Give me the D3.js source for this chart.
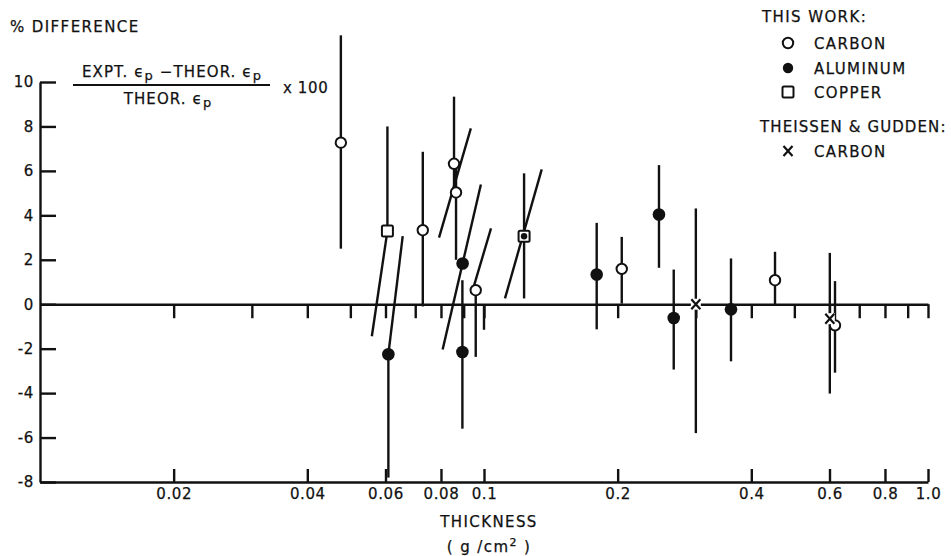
<!DOCTYPE html>
<html>
<head>
<meta charset="utf-8">
<script src="https://d3js.org/d3.v7.min.js"></script>
<style>
body { margin: 0; background: #fff; }
svg text { font-family: "DejaVu Sans", sans-serif; fill: #111; stroke: #111; stroke-width: 0.25px; }
</style>
</head>
<body>
<div id="chart"></div>
<script>
// [thickness, % difference, low end of bar, high end of bar]
var carbon = [
    [0.0476, 7.27, 2.5, 12.1],
    [0.0728, 3.33, -0.1, 6.86],
    [0.0856, 6.32, 5.03, 9.34],
    [0.0865, 5.03, 2.0, 6.32],
    [0.0958, 0.63, -2.37, 0.63],
    [0.2043, 1.59, 0.03, 3.03],
    [0.4523, 1.08, -0.05, 2.36],
    [0.6174, -0.95, -3.08, 1.04]
]
var aluminum = [
    [0.0609, -2.25, -7.8, -2.25],
    [0.0895, 1.83, 1.83, 1.83],
    [0.0894, -2.15, -5.6, 1.08],
    [0.1794, 1.34, -1.13, 3.66],
    [0.2478, 4.04, 1.64, 6.26],
    [0.2675, -0.62, -2.94, 1.56],
    [0.360, -0.23, -2.57, 2.06]
]
var copper = [
    [0.0606, 3.30, 3.30, 8.0],
    [0.1231, 3.06, 0.26, 5.89]
]
var copperInner = [[0.1231, 3.06]]
var theissen = [
    [0.300, 0.0, -5.8, 4.31],
    [0.601, -0.65, -4.02, 2.31]
]
// slanted bars [x1, y1, x2, y2]
var slants = [
    [0.0606, 3.30, 0.0559, -1.44],
    [0.0609, -2.25, 0.0656, 3.06],
    [0.0792, 3.0, 0.0934, 7.91],
    [0.0807, -2.04, 0.0984, 5.39],
    [0.0938, 0.48, 0.1037, 3.41],
    [0.1115, 0.26, 0.1349, 6.07],
    [0.1, 0, 0.1, -1.15]
]

var xLabelTicks = [0.02, 0.04, 0.06, 0.08, 0.1, 0.2, 0.4, 0.6, 0.8, 1.0]
var xZeroTicks = [0.02, 0.03, 0.04, 0.05, 0.06, 0.07, 0.08, 0.09, 0.1,
                  0.2, 0.3, 0.4, 0.5, 0.6, 0.7, 0.8, 0.9, 1.0]
var yTicks = [-8, -6, -4, -2, 0, 2, 4, 6, 8, 10]

var width = 951, height = 556
var ink = "#111"
var lw = 2.4

var svg = d3.select("#chart").append("svg")
    .attr("width", width)
    .attr("height", height)

var x = d3.scaleLog().domain([0.01, 1]).range([40, 928])
var y = d3.scaleLinear().domain([-8, 10]).range([482, 82])

function style_axis(g) {
    g.attr("color", ink)
    g.selectAll("path, line").attr("stroke-width", lw)
    g.selectAll("text")
        .attr("fill", ink)
        .style("font-size", "15px")
        .style("letter-spacing", "0.6px")
}

// bottom axis, ticks pointing up
svg.append("g")
    .attr("transform", "translate(0," + y(-8) + ")")
    .call(d3.axisBottom(x).tickValues(xLabelTicks).tickSize(-13).tickSizeOuter(0).tickPadding(6)
        .tickFormat(function(d) { return d === 1 ? "1.0" : String(d) }))
    .call(style_axis)

// zero line with small ticks below it
svg.append("g")
    .attr("transform", "translate(0," + y(0) + ")")
    .call(d3.axisBottom(x).tickValues(xZeroTicks).tickSize(14).tickSizeOuter(0).tickFormat(""))
    .call(style_axis)

// left axis, ticks pointing inward
svg.append("g")
    .attr("transform", "translate(" + x(0.01) + ",0)")
    .call(d3.axisLeft(y).tickValues(yTicks).tickSize(-16).tickSizeOuter(0).tickPadding(6)
        .tickFormat(function(d) { return d < 0 ? "-" + (-d) : String(d) }))
    .call(style_axis)

// error bars
var bars = carbon.concat(aluminum, copper, theissen)
svg.append("g").selectAll("line")
    .data(bars)
    .enter().append("line")
    .attr("x1", function(d) { return x(d[0]) })
    .attr("x2", function(d) { return x(d[0]) })
    .attr("y1", function(d) { return y(d[2]) })
    .attr("y2", function(d) { return y(d[3]) })
    .attr("stroke", ink)
    .attr("stroke-width", lw)

svg.append("g").selectAll("line")
    .data(slants)
    .enter().append("line")
    .attr("x1", function(d) { return x(d[0]) })
    .attr("y1", function(d) { return y(d[1]) })
    .attr("x2", function(d) { return x(d[2]) })
    .attr("y2", function(d) { return y(d[3]) })
    .attr("stroke", ink)
    .attr("stroke-width", lw)

// markers
function draw_open_circle(sel) {
    sel.append("circle").attr("r", 5.2).attr("fill", "#fff").attr("stroke", ink).attr("stroke-width", 2)
}
function draw_dot(sel) {
    sel.append("circle").attr("r", 6.3).attr("fill", ink)
}
function draw_square(sel) {
    sel.append("rect").attr("x", -5.5).attr("y", -5.5).attr("width", 11).attr("height", 11)
        .attr("rx", 1.5).attr("fill", "#fff").attr("stroke", ink).attr("stroke-width", 2)
}
function draw_cross(sel) {
    sel.append("rect").attr("x", -5).attr("y", -5.5).attr("width", 10).attr("height", 11).attr("fill", "#fff")
    sel.append("path").attr("d", "M-4.5,-5L4.5,5M4.5,-5L-4.5,5")
        .attr("stroke", ink).attr("stroke-width", 2.2).attr("fill", "none")
}

function plot_series(data, drawer) {
    svg.append("g").selectAll("g")
        .data(data)
        .enter().append("g")
        .attr("transform", function(d) { return "translate(" + x(d[0]) + "," + y(d[1]) + ")" })
        .call(drawer)
}

plot_series(carbon, draw_open_circle)
plot_series(aluminum, draw_dot)
plot_series(copper, draw_square)
plot_series(theissen, draw_cross)

svg.append("g").selectAll("circle")
    .data(copperInner)
    .enter().append("circle")
    .attr("cx", function(d) { return x(d[0]) })
    .attr("cy", function(d) { return y(d[1]) })
    .attr("r", 3.2)
    .attr("fill", ink)

// text
function label(tx, ty, str, anchor) {
    return svg.append("text")
        .attr("x", tx).attr("y", ty)
        .attr("text-anchor", anchor || "start")
        .style("font-size", "15px")
        .style("letter-spacing", "1.4px")
        .text(str)
}

label(10, 32, "%  DIFFERENCE")

// formula
var num = svg.append("text").attr("x", 172).attr("y", 77).attr("text-anchor", "middle")
    .style("font-size", "15px").style("letter-spacing", "1.1px")
num.append("tspan").text("EXPT. ϵ")
num.append("tspan").attr("dy", 3).style("font-size", "13px").text("p")
num.append("tspan").attr("dy", -3).text(" \u2212THEOR. ϵ")
num.append("tspan").attr("dy", 3).style("font-size", "13px").text("p")

svg.append("line")
    .attr("x1", 73).attr("x2", 270).attr("y1", 85).attr("y2", 85)
    .attr("stroke", ink).attr("stroke-width", 2)

var den = svg.append("text").attr("x", 168).attr("y", 104).attr("text-anchor", "middle")
    .style("font-size", "15px").style("letter-spacing", "1.1px")
den.append("tspan").text("THEOR. ϵ")
den.append("tspan").attr("dy", 3).style("font-size", "13px").text("p")

svg.append("text").attr("x", 283).attr("y", 93)
    .style("font-size", "15px").style("letter-spacing", "0.6px")
    .text("x 100")

// legend
label(762, 22, "THIS WORK:")
label(760, 132, "THEISSEN & GUDDEN:").style("letter-spacing", "1.1px")

var legendRows = [
    [43, "CARBON", draw_open_circle],
    [68, "ALUMINUM", draw_dot],
    [92, "COPPER", draw_square],
    [151, "CARBON", draw_cross]
]
legendRows.forEach(function(r) {
    var g = svg.append("g").attr("transform", "translate(788," + r[0] + ")")
    if (r[2] === draw_dot) {
        g.append("circle").attr("r", 5.2).attr("fill", ink)
    } else {
        g.call(r[2])
    }
    label(814, r[0] + 5.5, r[1])
})

// x axis title
label(489, 527, "THICKNESS", "middle")
var unit = svg.append("text").attr("x", 489).attr("y", 552).attr("text-anchor", "middle")
    .style("font-size", "15px").style("letter-spacing", "1.4px")
unit.append("tspan").text("( g /cm")
unit.append("tspan").attr("dy", -6).style("font-size", "11px").text("2")
unit.append("tspan").attr("dy", 6).text(" )")
</script>
</body>
</html>
